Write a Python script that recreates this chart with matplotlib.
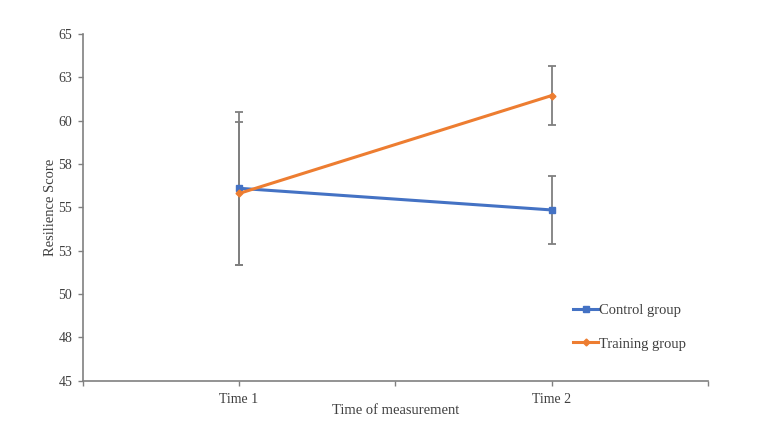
import matplotlib
matplotlib.use("Agg")
import matplotlib.pyplot as plt
from matplotlib.ticker import FixedLocator, FuncFormatter
import math

categories = ["Time 1", "Time 2"]
control_means = [56.1, 54.85]
control_err = [4.4, 1.95]
training_means = [55.8, 61.45]
training_err = [4.1, 1.7]
y_ticks = [45, 47.5, 50, 52.5, 55, 57.5, 60, 62.5, 65]

plt.rcParams['font.family'] = ['Liberation Serif', 'DejaVu Serif']

fig = plt.figure(figsize=(7.68, 4.4), dpi=100)
ax = fig.add_axes([82.7/768, 1-380.7/440, (708-82.7)/768, (380.7-34)/440])

x = list(range(len(categories)))
ebc = '#7f7f7f'
ax.errorbar(x, control_means, yerr=control_err, fmt='none', ecolor=ebc,
            elinewidth=1.3, capsize=2.8, capthick=1.3, zorder=2)
ax.errorbar(x, training_means, yerr=training_err, fmt='none', ecolor=ebc,
            elinewidth=1.3, capsize=2.8, capthick=1.3, zorder=2)
ax.plot(x, control_means, color='#4472C4', lw=2.2, marker='s', ms=5,
        label='Control group', zorder=3)
ax.plot(x, training_means, color='#ED7D31', lw=2.2, marker='D', ms=3.5,
        label='Training group', zorder=4)

ax.set_xlim(-0.5, 1.5)
ax.set_ylim(45, 65)
ax.yaxis.set_major_locator(FixedLocator(y_ticks))
ax.yaxis.set_major_formatter(FuncFormatter(lambda v, p: str(int(math.floor(v + 0.5)))))
ax.set_xticks([-0.5, 0, 0.5, 1, 1.5])
ax.set_xticklabels(["", categories[0], "", categories[1], ""])

for s in ['top', 'right']:
    ax.spines[s].set_visible(False)
for s in ['left', 'bottom']:
    ax.spines[s].set_color('#808080')
    ax.spines[s].set_linewidth(1.2)
ax.tick_params(axis='both', direction='out', length=3.5, width=1.0, color='#808080',
               labelsize=10, labelcolor='#404040')
ax.tick_params(axis='x', pad=5)
ax.tick_params(axis='y', pad=4)

ax.set_xlabel('Time of measurement', fontsize=10.5, color='#404040', labelpad=-1)
ax.set_ylabel('Resilience Score', fontsize=10.5, color='#404040', labelpad=1)

leg = ax.legend(loc='lower left', bbox_to_anchor=(0.775, 0.07), frameon=False,
                fontsize=10.5, handlelength=1.7, handletextpad=0.1, labelspacing=1.4,
                borderaxespad=0)
for t in leg.get_texts():
    t.set_color('#404040')

fig.savefig('out.png', dpi=100, facecolor='white')
